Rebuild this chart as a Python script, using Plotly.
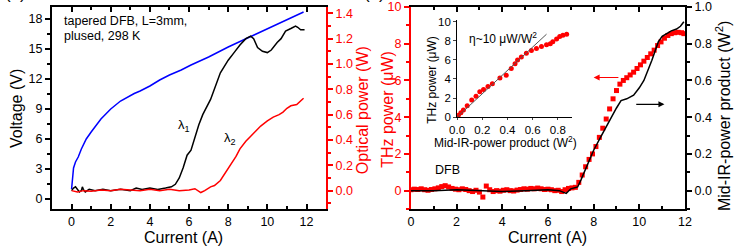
import plotly.graph_objects as go

# ---------------------------- Data -------------------------------------------
# (a) voltage vs current (blue, left axis)
cur_volt = [0, 0.05, 0.1, 0.2, 0.34, 0.5, 0.75, 1.0, 1.18, 1.5, 2.0, 2.5, 3.2, 3.5,
            4.0, 4.5, 5.0, 5.6, 6.1, 7.0, 8.0, 9.0, 10.0, 11.0, 11.85]
voltage = [1.0, 2.4, 3.1, 3.7, 4.2, 5.0, 6.0, 6.7, 7.2, 8.0, 9.0, 9.8, 10.55, 10.8,
           11.3, 11.9, 12.4, 12.9, 13.4, 14.2, 15.2, 16.1, 17.0, 17.9, 18.7]

# (a) optical power lambda1 (black, right axis)
cur_l1 = [0, 0.1, 0.2, 0.3, 0.4, 0.5, 0.55, 0.6, 0.7, 0.9, 1.2, 1.6, 2.0, 2.5, 3.0,
          3.3, 3.6, 4.0, 4.4, 4.8, 5.1, 5.3, 5.5, 5.7, 5.9, 6.1, 6.3, 6.5, 6.7,
          7.1, 7.6, 8.0, 8.3, 8.6, 8.9, 9.15, 9.3, 9.5, 9.75, 10.0, 10.2, 10.5,
          10.7, 10.93, 11.2, 11.44, 11.55, 11.7, 11.9]
pow_l1 = [0.0, 0.02, 0.03, 0.01, -0.01, 0.0, 0.03, 0.01, -0.01, 0.01, 0.0, 0.01,
          0.0, 0.01, 0.0, 0.02, 0.01, 0.02, 0.01, 0.02, 0.03, 0.05, 0.1, 0.18,
          0.28, 0.32, 0.43, 0.52, 0.6, 0.72, 0.93, 1.03, 1.09, 1.15, 1.2, 1.22,
          1.2, 1.13, 1.1, 1.09, 1.11, 1.17, 1.2, 1.26, 1.28, 1.30, 1.29, 1.27, 1.27]

# (a) optical power lambda2 (red, right axis)
cur_l2 = [0, 0.3, 0.6, 1.0, 1.5, 2.0, 2.5, 3.0, 3.5, 4.0, 4.5, 5.0, 5.5, 6.0, 6.3,
          6.6, 6.8, 7.1, 7.3, 7.6, 7.9, 8.1, 8.4, 8.6, 8.9, 9.15, 9.4, 9.66, 10.0,
          10.3, 10.6, 10.8, 11.0, 11.2, 11.5, 11.85]
pow_l2 = [0.0, -0.01, 0.0, -0.005, 0.005, 0.0, 0.01, 0.005, 0.0, 0.01, 0.0, 0.01,
          0.0, 0.005, 0.015, -0.015, 0.0, 0.03, 0.04, 0.08, 0.15, 0.2, 0.27, 0.33,
          0.39, 0.43, 0.47, 0.51, 0.55, 0.58, 0.6, 0.62, 0.65, 0.67, 0.68, 0.73]

# (b) THz power (red squares, left axis)
cur_thz = [0.0, 0.15, 0.3, 0.45, 0.6, 0.75, 0.9, 1.05, 1.2, 1.35, 1.5, 1.65, 1.8,
           1.95, 2.1, 2.25, 2.4, 2.55, 2.7, 2.85, 3.0, 3.15, 3.3, 3.45, 3.6, 3.75,
           3.9, 4.05, 4.2, 4.35, 4.5, 4.65, 4.8, 4.95, 5.1, 5.25, 5.4, 5.55, 5.7,
           5.85, 6.0, 6.15, 6.3, 6.45, 6.6, 6.75, 6.9, 7.05, 7.2, 7.35, 7.5, 7.65,
           7.8, 7.95, 8.1, 8.25, 8.4, 8.55, 8.7, 8.85, 9.0, 9.15, 9.3, 9.45, 9.6,
           9.75, 9.9, 10.05, 10.2, 10.35, 10.5, 10.65, 10.8, 10.95, 11.1, 11.25,
           11.4, 11.55, 11.7, 11.85, 11.95]
thz_pow = [0.05, 0.08, 0.06, 0.1, 0.05, 0.02, 0.06, 0.1, 0.15, 0.22, 0.27, 0.2,
           0.12, 0.08, 0.05, 0.1, 0.06, 0.0, -0.05, 0.02, -0.08, -0.35, 0.25, 0.05,
           -0.05, 0.0, -0.03, 0.02, 0.05, 0.0, -0.02, 0.03, 0.06, 0.1, 0.08, 0.12,
           0.1, 0.14, 0.1, 0.06, 0.08, 0.05, 0.0, 0.02, -0.05, 0.05, 0.12, 0.15,
           0.18, 0.45, 0.85, 1.3, 1.7, 2.0, 2.4, 2.9, 3.4, 3.9, 4.45, 5.0, 5.45,
           5.8, 6.0, 6.15, 6.3, 6.45, 6.65, 6.85, 7.05, 7.25, 7.45, 7.65, 7.9, 8.1,
           8.3, 8.45, 8.55, 8.6, 8.62, 8.6, 8.55]

# (b) mid-IR power product (black line, right axis)
cur_prod = [0, 1, 2, 3, 4, 5, 6, 6.5, 6.8, 7.0, 7.15, 7.3, 7.45, 7.7, 8.0, 8.3, 8.6,
            9.0, 9.2, 9.45, 9.75, 10.0, 10.2, 10.55, 10.83, 11.0, 11.2, 11.4, 11.63,
            11.8, 11.95]
prod = [0.0, 0.0, 0.005, 0.0, -0.005, 0.0, 0.005, 0.0, -0.015, 0.01, 0.015, 0.02,
        0.06, 0.13, 0.22, 0.29, 0.36, 0.45, 0.49, 0.50, 0.52, 0.56, 0.60, 0.71,
        0.81, 0.84, 0.855, 0.87, 0.88, 0.895, 0.92]

# inset: THz power vs mid-IR power product
ins_prod = [0.0, 0.01, 0.03, 0.05, 0.08, 0.116, 0.15, 0.18, 0.21, 0.245, 0.28, 0.34,
            0.39, 0.43, 0.46, 0.48, 0.51, 0.55, 0.59, 0.63, 0.67, 0.71, 0.74, 0.76,
            0.79, 0.815, 0.84, 0.87]
ins_thz = [0.0, 0.2, 0.45, 0.74, 1.2, 1.8, 2.2, 2.66, 2.9, 3.2, 3.5, 4.1, 4.4, 5.1,
           5.6, 6.0, 6.3, 6.7, 7.0, 7.2, 7.4, 7.6, 7.7, 7.9, 8.2, 8.45, 8.6, 8.7]
fit_x = [0.0, 0.71]
fit_y = [0.0, 8.7]

# ---------------------------- Figure -----------------------------------------
FONT = "Arial, Liberation Sans, sans-serif"
RED = "#ff0000"
fig = go.Figure()

fig.add_trace(go.Scatter(x=cur_volt, y=voltage, mode="lines",
                         line=dict(color="#0000ff", width=1.5), xaxis="x", yaxis="y"))
fig.add_trace(go.Scatter(x=cur_l1, y=pow_l1, mode="lines",
                         line=dict(color="black", width=1.5), xaxis="x", yaxis="y2"))
fig.add_trace(go.Scatter(x=cur_l2, y=pow_l2, mode="lines",
                         line=dict(color=RED, width=1.5), xaxis="x", yaxis="y2"))
fig.add_trace(go.Scatter(x=cur_thz, y=thz_pow, mode="markers",
                         marker=dict(symbol="square", size=5, color=RED),
                         xaxis="x2", yaxis="y3"))
fig.add_trace(go.Scatter(x=cur_prod, y=prod, mode="lines",
                         line=dict(color="black", width=1.5), xaxis="x2", yaxis="y4"))
fig.add_trace(go.Scatter(x=ins_prod, y=ins_thz, mode="markers",
                         marker=dict(symbol="circle", size=5, color=RED),
                         xaxis="x3", yaxis="y5"))
fig.add_trace(go.Scatter(x=fit_x, y=fit_y, mode="lines",
                         line=dict(color="#555555", width=1), xaxis="x3", yaxis="y5"))


def ax(color="black", ticks="outside", dtick=None, minor=None, **kw):
    d = dict(showline=True, linecolor=color, linewidth=2, ticks=ticks, ticklen=5,
             tickwidth=1.5, tickcolor=color, showgrid=False, zeroline=False,
             automargin=False,
             tickfont=dict(size=12.5, color=color, family=FONT), dtick=dtick)
    if minor:
        d["minor"] = dict(ticks=ticks, ticklen=3, tickwidth=1.5, tickcolor=color,
                          dtick=minor, showgrid=False)
    d.update(kw)
    return d


fig.update_layout(
    width=750, height=250,
    margin=dict(l=52, r=65, t=7, b=41),
    plot_bgcolor="white", paper_bgcolor="white",
    showlegend=False,
    font=dict(family=FONT, size=12.5, color="black"),
    xaxis=ax(ticks="inside", dtick=2, minor=1, domain=[0, 0.433], range=[-1, 13],
             mirror="ticks", anchor="y"),
    yaxis=ax(dtick=3, minor=1.5, range=[-1, 19.2], anchor="x"),
    yaxis2=ax(color=RED, dtick=0.2, minor=0.1, range=[-0.145, 1.45], anchor="x",
              overlaying="y", side="right", tickformat=".1f"),
    xaxis2=ax(ticks="inside", dtick=2, minor=1, domain=[0.567, 1], range=[0, 12],
              mirror="ticks", anchor="y3"),
    yaxis3=ax(color=RED, dtick=2, minor=1, range=[-1, 10], anchor="x2"),
    yaxis4=ax(dtick=0.2, minor=0.1, range=[-0.1, 1.0], anchor="x2",
              overlaying="y3", side="right", tickformat=".1f"),
    xaxis3=dict(domain=[0.640, 0.821], range=[0, 0.91], anchor="y5", dtick=0.2,
                tickformat=".1f", showline=True, linecolor="black", linewidth=1,
                ticks="outside", ticklen=2, showgrid=False, zeroline=False,
                automargin=False, tickfont=dict(size=11.5, family=FONT)),
    yaxis5=dict(domain=[0.455, 0.936], range=[0, 10.2], anchor="x3", dtick=2,
                showline=True, linecolor="black", linewidth=1, ticks="outside",
                ticklen=3, showgrid=False, zeroline=False, automargin=False,
                tickfont=dict(size=11.5, family=FONT)),
)

ann = []
# axis titles placed by hand
titles = [("Voltage (V)", -0.057, 0.50, -90, "black", 16),
          ("Optical power (W)", 0.490, 0.49, -90, RED, 16),
          ("THz power (\u03bcW)", 0.529, 0.495, -90, RED, 16),
          ("Mid-IR-power product (W<sup>2</sup>)", 1.060, 0.46, -90, "black", 16),
          ("Current (A)", 0.2077, -0.141, 0, "black", 16),
          ("Current (A)", 0.782, -0.141, 0, "black", 16),
          ("THz power (\u03bcW)", 0.600, 0.639, -90, "black", 12),
          ("Mid-IR-power product (W<sup>2</sup>)", 0.717, 0.330, 0, "black", 12)]
for txt, xx, yy, rot, col, sz in titles:
    ann.append(dict(text=txt, xref="paper", yref="paper", x=xx, y=yy,
                    xanchor="center", yanchor="middle", textangle=rot,
                    showarrow=False, font=dict(size=sz, color=col)))
ann.append(dict(text="tapered DFB, L=3mm,", xref="paper", yref="paper", x=0.016,
                y=0.93, xanchor="left", yanchor="middle", showarrow=False))
ann.append(dict(text="plused, 298 K", xref="paper", yref="paper", x=0.016,
                y=0.855, xanchor="left", yanchor="middle", showarrow=False))
ann.append(dict(text="\u03bb<sub>1</sub>", xref="x", yref="y", x=5.75, y=7.4,
                showarrow=False, font=dict(size=13)))
ann.append(dict(text="\u03bb<sub>2</sub>", xref="x", yref="y", x=8.1, y=6.1,
                showarrow=False, font=dict(size=13)))
ann.append(dict(text="DFB", xref="x2", yref="y3", x=0.95, y=1.1, xanchor="left",
                showarrow=False))
ann.append(dict(text="\u03b7~10 \u03bcW/W<sup>2</sup>", xref="x3", yref="y5", x=0.08,
                y=8.3, xanchor="left", showarrow=False, font=dict(size=12)))
ann.append(dict(x=8.0, y=6.16, ax=9.15, ay=6.16, xref="x2", yref="y3", axref="x2",
                ayref="y3", showarrow=True, arrowhead=2, arrowsize=1, arrowwidth=1.2,
                arrowcolor=RED, text=""))
ann.append(dict(x=11.1, y=0.47, ax=9.8, ay=0.47, xref="x2", yref="y4", axref="x2",
                ayref="y4", showarrow=True, arrowhead=2, arrowsize=1, arrowwidth=1.2,
                arrowcolor="black", text=""))
# panel letters, mostly cut off by the top edge as in the source
ann.append(dict(text="(a)", xref="paper", yref="paper", x=-0.058, y=1.069,
                xanchor="center", yanchor="middle", showarrow=False,
                font=dict(size=17)))
ann.append(dict(text="(b)", xref="paper", yref="paper", x=0.509, y=1.069,
                xanchor="center", yanchor="middle", showarrow=False,
                font=dict(size=17)))
fig.update_layout(annotations=ann)

# the page's default body margin would shift the whole figure by 8 px
fig.write_html("out.html", config={"displayModeBar": False},
               post_script="document.body.style.margin='0px';")
